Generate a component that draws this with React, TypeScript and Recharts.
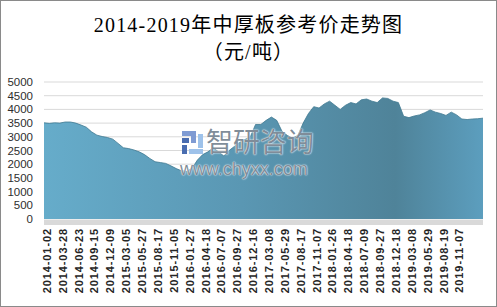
import React from 'react'
import { AreaChart, Area, XAxis, YAxis, CartesianGrid } from 'recharts'

// dates shown on the category axis (one every 60 trading days)
const tickLabels = [
  '2014-01-02', '2014-03-28', '2014-06-23', '2014-09-15', '2014-12-09', '2015-03-05', '2015-05-27',
  '2015-08-17', '2015-11-05', '2016-01-27', '2016-04-18', '2016-07-07', '2016-09-27', '2016-12-16',
  '2017-03-08', '2017-05-29', '2017-08-17', '2017-11-07', '2018-01-26', '2018-04-18', '2018-07-09',
  '2018-09-27', '2018-12-18', '2019-03-08', '2019-05-29', '2019-08-19', '2019-11-07',
]

// sampled price every 20 trading days, 元/吨
const prices = [
  3510, 3490, 3510, 3500, 3540, 3540, 3500, 3430, 3350, 3180,
  3060, 3010, 2975, 2915, 2760, 2600, 2570, 2520, 2450, 2350,
  2210, 2090, 2060, 2030, 1940, 1840, 1760, 1740, 1850, 2150,
  2350, 2450, 2600, 2450, 2300, 2500, 2650, 2800, 2900, 3000,
  3450, 3450, 3600, 3720, 3600, 3200, 3050, 2950, 3050, 3500,
  3850, 4100, 4050, 4200, 4300, 4150, 4000, 4150, 4250, 4200,
  4350, 4380, 4300, 4250, 4420, 4400, 4300, 4250, 3750, 3700,
  3760, 3800, 3880, 3980, 3900, 3850, 3780, 3900, 3800, 3650,
  3630, 3650, 3660, 3680,
]

const yTicks = [0, 500, 1000, 1500, 2000, 2500, 3000, 3500, 4000, 4500, 5000]
const PER_TICK = 3 // samples between two date labels

const data = prices.map((v, i) => ({ i, v }))

function DateTick(props: any) {
  const { x, y, payload } = props
  const label = tickLabels[Math.round(payload.value / PER_TICK)]
  const tx = x + 3
  const ty = y + 9
  return (
    <text x={tx} y={ty} dy="0.35em" textAnchor="end" transform={`rotate(-90, ${tx}, ${ty})`}
      fill="#262626" fontSize={11} fontWeight="bold" letterSpacing={0.9} fontFamily="'Liberation Sans', Arial, sans-serif">
      {label}
    </text>
  )
}

const wm = { position: 'absolute' as const, color: 'rgba(105,120,135,0.85)', textShadow: '0 0 1px #fff, 0 0 2px #fff', fontFamily: "'Noto Sans CJK SC', sans-serif", whiteSpace: 'nowrap' as const }

export default function App() {
  return (
    <div style={{ position: 'relative', width: 497, height: 307, boxSizing: 'border-box', border: '1px solid #8a8a8a', background: '#fff', overflow: 'hidden' }}>
      <style>{'body{margin:0}'}</style>
      <div style={{ position: 'absolute', left: 0, top: 11, width: 495, textAlign: 'center', fontFamily: "'Liberation Serif', 'Noto Sans CJK SC', serif", fontSize: 20, lineHeight: '27px', letterSpacing: 1.2, color: '#000' }}>
        <div>2014-2019年中厚板参考价走势图</div>
        <div>（元/吨）</div>
      </div>
      <div style={{ position: 'absolute', left: -1, top: -1 }}>
        <AreaChart width={497} height={307} data={data} margin={{ top: 82, right: 14, bottom: 0, left: 0 }}>
          <defs>
            <linearGradient id="fillG" x1="0" y1="0" x2="1" y2="0">
              <stop offset="0%" stopColor="#66acca" />
              <stop offset="45%" stopColor="#5a97b3" />
              <stop offset="80%" stopColor="#4f8399" />
              <stop offset="100%" stopColor="#5c9ebe" />
            </linearGradient>
          </defs>
          <CartesianGrid vertical={false} stroke="#d9d9d9" />
          <XAxis dataKey="i" type="number" domain={[0, prices.length - 1]} ticks={tickLabels.map((_, j) => j * PER_TICK)}
            interval={0} tick={<DateTick />} tickLine={false} axisLine={false} height={88} tickSize={0} tickMargin={0} />
          <YAxis domain={[0, 5000]} ticks={yTicks} interval={0} width={44} axisLine={false} tickLine={false} tickSize={0} tickMargin={11}
            tick={{ fill: '#2e2e2e', fontSize: 11.5, fontFamily: "'Liberation Sans', Arial, sans-serif" }} />
          <Area type="linear" dataKey="v" fill="url(#fillG)" fillOpacity={1} stroke="#3f7890" strokeWidth={0.8} isAnimationActive={false} />
        </AreaChart>
      </div>
      <div style={{ position: 'absolute', left: 43, top: 219, width: 439, height: 5, background: '#d9d9d9' }} />
      <svg style={{ position: 'absolute', left: 181, top: 130 }} width={22} height={23}>
        <rect x={0} y={0} width={14} height={5} fill="#7f9bd3" />
        <rect x={9} y={5} width={5} height={7} fill="#7f9bd3" />
        <rect x={0} y={7} width={7} height={5} fill="#4a6db0" />
        <rect x={0} y={14} width={5} height={9} fill="#4a6db0" />
        <rect x={16} y={3} width={5} height={14} fill="#9ec2ea" />
        <rect x={7} y={18} width={14} height={5} fill="#9ec2ea" />
      </svg>
      <div style={{ ...wm, left: 205, top: 123, fontSize: 27, lineHeight: '34px' }}>智研咨询</div>
      <div style={{ ...wm, left: 179, top: 158, fontSize: 18, lineHeight: '20px', fontFamily: "'Liberation Sans', Arial, sans-serif" }}>www.chyxx.com</div>
    </div>
  )
}
